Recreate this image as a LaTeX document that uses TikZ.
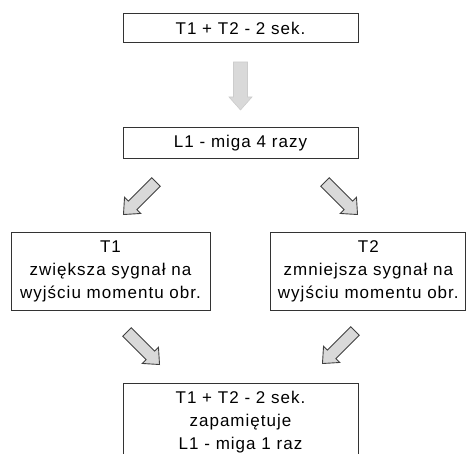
\documentclass[tikz,border=0pt]{standalone}
\usepackage{fontspec}
\setmainfont[LetterSpace=6]{Liberation Sans}
\usetikzlibrary{positioning}

\begin{document}
\begin{tikzpicture}[x=1pt, y=1pt,
  box/.style = {draw=black!80, line width=0.8pt, align=center, inner xsep=4pt, inner ysep=8pt,
    font=\fontsize{17}{23}\selectfont},
  downarrow/.pic = {\draw[draw=black!20, fill=black!15, line width=0.6pt]
    (0,7) -- (35,7) -- (35,11.5) -- (48,0) -- (35,-11.5) -- (35,-7) -- (0,-7) -- cycle;},
  slantarrow/.pic = {\draw[draw=black!75, fill=black!15, line width=0.9pt, line join=miter]
    (0,6) -- (33,6) -- (33,11.5) -- (46,0) -- (33,-11.5) -- (33,-6) -- (0,-6) -- cycle;}]
\useasboundingbox (0,0) rectangle (468,-454);

\node[box, minimum width=235pt] (1) at (240.5,-28) {T1 + T2 - 2 sek.};
\node[box, minimum width=235pt] (2) [below=84pt of 1] {L1 - miga 4 razy};
\node[box, minimum width=199pt] (3) at (110.5,-271.5) {T1\\zwiększa sygnał na\\wyjściu momentu obr.};
\node[box, minimum width=195pt] (4) [right=60pt of 3] {T2\\zmniejsza sygnał na\\wyjściu momentu obr.};
\node[box, minimum width=235pt, anchor=north] (5) at (240.5,-383) {T1 + T2 - 2 sek.\\zapamiętuje\\L1 - miga 1 raz};

\pic[rotate=-90] at (240.5,-62) {downarrow};
\pic[rotate=-135] at (156,-182) {slantarrow};
\pic[rotate=-45] at (325,-182) {slantarrow};
\pic[rotate=-45] at (127,-332) {slantarrow};
\pic[rotate=-135] at (355,-331) {slantarrow};
\end{tikzpicture}
\end{document}
